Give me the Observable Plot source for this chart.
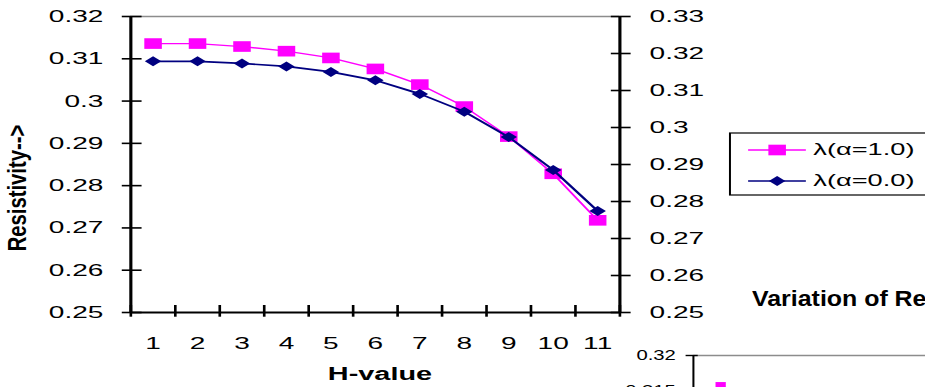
<!DOCTYPE html>
<html>
<head>
<meta charset="utf-8">
<script src="https://cdn.jsdelivr.net/npm/d3@7"></script>
<script src="https://cdn.jsdelivr.net/npm/@observablehq/plot@0.6"></script>
<style>
  html, body { margin: 0; padding: 0; background: #fff; overflow: hidden; }
  #page { position: relative; width: 925px; height: 387px; overflow: hidden; background: #fff;
          font-family: "Liberation Sans", Arial, sans-serif; color: #000; }
  #main { position: absolute; left: 0; top: 0; width: 561px; height: 387px;
          transform: scaleX(1.65); transform-origin: 0 0; }
  #lower { position: absolute; left: 600px; top: 345px; width: 520px; height: 178px;
           transform: scaleX(1.35); transform-origin: 0 0; }
  .ov { position: absolute; left: 0; top: 0; pointer-events: none; overflow: visible; }
</style>
</head>
<body>
<div id="page">
  <div id="main"></div>
  <div id="lower"></div>
</div>
<script>
// ---------- data ----------
const hValues = [1, 2, 3, 4, 5, 6, 7, 8, 9, 10, 11];
const seriesNames = ["λ(α=1.0)", "λ(α=0.0)"];
const seriesAlpha1 = [0.3136, 0.3136, 0.3129, 0.3118, 0.3102, 0.3076, 0.3039, 0.2987, 0.2916, 0.2828, 0.2718];
const seriesAlpha0 = [0.3094, 0.3094, 0.3089, 0.3082, 0.3069, 0.3049, 0.3017, 0.2975, 0.2915, 0.2837, 0.2740];
const leftTicks = [0.25, 0.26, 0.27, 0.28, 0.29, 0.30, 0.31, 0.32];
const leftTickLabels = ["0.25", "0.26", "0.27", "0.28", "0.29", "0.3", "0.31", "0.32"];
const rightTicks = [0.25, 0.26, 0.27, 0.28, 0.29, 0.30, 0.31, 0.32, 0.33];
const rightTickLabels = ["0.25", "0.26", "0.27", "0.28", "0.29", "0.3", "0.31", "0.32", "0.33"];
const xTitle = "H-value";
const yTitle = "Resistivity-->";
const lowerTitle = "Variation of Resistivity";
// second (mostly cut-off) chart: only its top is visible
const lowerTicks = [0.32, 0.315];
const lowerTickLabels = ["0.32", "0.315"];
const lowerH = [1];
const lowerAlpha1 = [0.3156];

// ---------- styling ----------
const colors = ["#ff00ff", "#000080"];
const FONT = "Liberation Sans, Arial, Helvetica, sans-serif";

const rows = hValues.flatMap((h, i) => [
  {h, v: seriesAlpha1[i], s: seriesNames[0]},
  {h, v: seriesAlpha0[i], s: seriesNames[1]}
]);
const rowsA = rows.filter(d => d.s === seriesNames[0]);
const rowsB = rows.filter(d => d.s === seriesNames[1]);

const yDomain = [leftTicks[0], leftTicks[leftTicks.length - 1]];
const rDomain = [rightTicks[0], rightTicks[rightTicks.length - 1]];
const toLeft = r => yDomain[0] + (r - rDomain[0]) * (yDomain[1] - yDomain[0]) / (rDomain[1] - rDomain[0]);
const toRight = d => rDomain[0] + (d - yDomain[0]) * (rDomain[1] - rDomain[0]) / (yDomain[1] - yDomain[0]);
const rightMapped = rightTicks.map(toLeft);
const nearestLabel = (ticks, labels) => d => {
  let bi = 0, bd = Infinity;
  ticks.forEach((t, i) => { const dd = Math.abs(t - d); if (dd < bd) { bd = dd; bi = i; } });
  return labels[bi];
};
const xEdges = d3.range(hValues.length + 1).map(i => hValues[0] - 0.5 + i);

const main = Plot.plot({
  width: 561,
  height: 387,
  marginTop: 16,
  marginBottom: 75,
  marginLeft: 78.8,
  marginRight: 185.8,
  style: {fontFamily: FONT, fontSize: "17px", color: "black", background: "transparent", overflow: "visible"},
  x: {type: "linear", domain: [xEdges[0], xEdges[xEdges.length - 1]]},
  y: {domain: yDomain},
  marks: [
    Plot.ruleY([yDomain[1]], {stroke: "#8c8c8c", strokeWidth: 1.6}),
    Plot.line(rowsA, {x: "h", y: "v", stroke: colors[0], strokeWidth: 1.3}),
    Plot.dot(rowsA, {x: "h", y: "v", symbol: "square", r: 6, fill: colors[0], stroke: "none"}),
    Plot.line(rowsB, {x: "h", y: "v", stroke: colors[1], strokeWidth: 1.7}),
    Plot.dot(rowsB, {x: "h", y: "v", symbol: "diamond2", r: 4.5, fill: colors[1], stroke: "none"}),
    Plot.ruleX([xEdges[0]], {stroke: "black", strokeWidth: 1.9}),
    Plot.ruleX([xEdges[xEdges.length - 1]], {stroke: "black", strokeWidth: 1.9}),
    Plot.ruleY([yDomain[0]], {stroke: "black", strokeWidth: 2}),
    // left axis
    Plot.axisY({anchor: "left", ticks: leftTicks, tickSize: 12, dx: 7, fill: "none", stroke: "black", strokeWidth: 1.6, label: null}),
    Plot.axisY({anchor: "left", ticks: leftTicks, tickSize: 0, tickPadding: 16.6, tickFormat: nearestLabel(leftTicks, leftTickLabels), fontSize: 17, fill: "black", label: null}),
    // right axis
    Plot.axisY({anchor: "right", ticks: rightMapped, tickSize: 12, dx: -6, fill: "none", stroke: "black", strokeWidth: 1.6, label: null}),
    Plot.axisY({anchor: "right", ticks: rightMapped, tickSize: 0, tickPadding: 18, tickFormat: d => nearestLabel(rightTicks, rightTickLabels)(toRight(d)), fontSize: 17, fill: "black", label: null}),
    // x axis
    Plot.axisX({anchor: "bottom", ticks: xEdges, tickSize: 11.7, dy: -7, fill: "none", stroke: "black", strokeWidth: 1.6, label: null}),
    Plot.axisX({anchor: "bottom", ticks: hValues, tickSize: 0, tickPadding: 24, tickFormat: d => String(d), fontSize: 17, fill: "black", label: null})
  ]
});
document.getElementById("main").appendChild(main);

// overlay inside stretched area: legend + x title
const ov = d3.select("#main").append("svg").attr("class", "ov").attr("width", 561).attr("height", 387);
ov.append("text").attr("x", 230.3).attr("y", 380).attr("text-anchor", "middle")
  .attr("font-family", FONT).attr("font-weight", "bold").attr("font-size", 17.5).text(xTitle);
const leg = ov.append("g").attr("transform", "translate(442.4,133)");
leg.append("rect").attr("x", 0).attr("y", 0).attr("width", 140).attr("height", 62)
  .attr("fill", "white").attr("stroke", "black").attr("stroke-width", 1.2);
const legSymbols = [d3.symbolSquare, d3.symbolDiamond2];
const legSizes = [Math.PI * 36, Math.PI * 4.5 * 4.5];
seriesNames.forEach((name, i) => {
  const cy = 17 + i * 31;
  leg.append("line").attr("x1", 11).attr("x2", 46).attr("y1", cy).attr("y2", cy)
    .attr("stroke", colors[i]).attr("stroke-width", i === 0 ? 1.3 : 1.5);
  leg.append("path").attr("d", d3.symbol(legSymbols[i], legSizes[i])()).attr("transform", `translate(28.6,${cy})`).attr("fill", colors[i]);
  leg.append("text").attr("x", 50.5).attr("y", cy).attr("dominant-baseline", "central")
    .attr("font-family", FONT).attr("font-size", 16.5).text(name);
});

// second, mostly cut-off chart at the bottom right
const lowerRows = lowerH.map((h, i) => ({h, v: lowerAlpha1[i]}));
const lower = Plot.plot({
  width: 520,
  height: 178,
  marginTop: 10,
  marginBottom: 30,
  marginLeft: 68.7,
  marginRight: 7.3,
  style: {fontFamily: FONT, fontSize: "15px", color: "black", background: "transparent", overflow: "visible"},
  x: {type: "linear", domain: [xEdges[0], xEdges[xEdges.length - 1]], axis: null},
  y: {domain: [0.30, lowerTicks[0]], axis: null},
  marks: [
    Plot.ruleY([lowerTicks[0]], {stroke: "#8c8c8c", strokeWidth: 1.6}),
    Plot.ruleX([xEdges[0]], {stroke: "black", strokeWidth: 1.5}),
    Plot.dot(lowerRows, {x: "h", y: "v", symbol: "square", r: 4.3, fill: colors[0], stroke: "none"}),
    Plot.axisY({anchor: "left", ticks: lowerTicks, tickSize: 9, dx: 3.7, fill: "none", stroke: "black", strokeWidth: 1.4, label: null}),
    Plot.axisY({anchor: "left", ticks: lowerTicks, tickSize: 0, tickPadding: 13, tickFormat: nearestLabel(lowerTicks, lowerTickLabels), fontSize: 15, fill: "black", label: null})
  ]
});
document.getElementById("lower").appendChild(lower);

// page-level overlay: rotated y title and lower chart title
const pov = d3.select("#page").append("svg").attr("class", "ov").attr("width", 925).attr("height", 387);
pov.append("text").attr("transform", "translate(17,188) rotate(-90) scale(0.78,1)")
  .attr("text-anchor", "middle").attr("dominant-baseline", "central")
  .attr("font-family", FONT).attr("font-weight", "bold").attr("font-size", 26).text(yTitle);
pov.append("text").attr("transform", "translate(752,305.7) scale(1.16,1)")
  .attr("font-family", FONT).attr("font-weight", "bold").attr("font-size", 21.5).text(lowerTitle);
</script>
</body>
</html>
